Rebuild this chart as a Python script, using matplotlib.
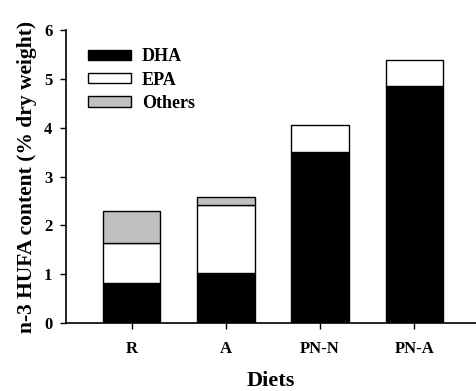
import matplotlib.pyplot as plt
import numpy as np

# data
diets = ["R", "A", "PN-N", "PN-A"]
dha = [0.81, 1.02, 3.50, 4.86]
epa = [0.82, 1.40, 0.55, 0.53]
others = [0.67, 0.17, 0.0, 0.0]

plt.rcParams['font.family'] = ['Liberation Serif', 'DejaVu Serif']
plt.rcParams['font.weight'] = 'bold'

fig = plt.figure(figsize=(4.76, 3.91), dpi=100)
ax = fig.add_axes([0.139, 0.174, 0.86, 0.749])

x = np.arange(len(diets))
w = 0.61
dha_a = np.array(dha)
epa_a = np.array(epa)
oth_a = np.array(others)

ax.bar(x, dha_a, w, color='black', edgecolor='black', linewidth=1, label='DHA')
ax.bar(x, epa_a, w, bottom=dha_a, color='white', edgecolor='black', linewidth=1, label='EPA')
mask = oth_a > 0
ax.bar(x[mask], oth_a[mask], w, bottom=(dha_a + epa_a)[mask], color='#c0c0c0',
       edgecolor='black', linewidth=1, label='Others')

ax.set_xlim(-0.695, 3.65)
ax.set_ylim(0, 6)
ax.set_xticks(x)
ax.set_xticklabels(diets, fontsize=12, fontweight='bold')
ax.set_yticks(range(7))
ax.tick_params(axis='y', labelsize=12, direction='out', length=4, width=1, pad=6)
ax.tick_params(axis='x', direction='out', length=4, width=1, pad=9)
for lab in ax.get_yticklabels():
    lab.set_fontweight('bold')

ax.spines['top'].set_visible(False)
ax.spines['right'].set_visible(False)
ax.spines['left'].set_linewidth(1.2)
ax.spines['bottom'].set_linewidth(1.2)

ax.set_xlabel("Diets", fontsize=16, fontweight='bold', labelpad=10)
ax.set_ylabel("n-3 HUFA content (% dry weight)", fontsize=15.5, fontweight='bold', labelpad=5)

leg = ax.legend(loc='upper left', bbox_to_anchor=(0.013, 0.993), frameon=False,
                fontsize=13, handlelength=2.4, handleheight=0.5,
                labelspacing=0.35, handletextpad=0.6)

fig.savefig("out.png", dpi=100)
